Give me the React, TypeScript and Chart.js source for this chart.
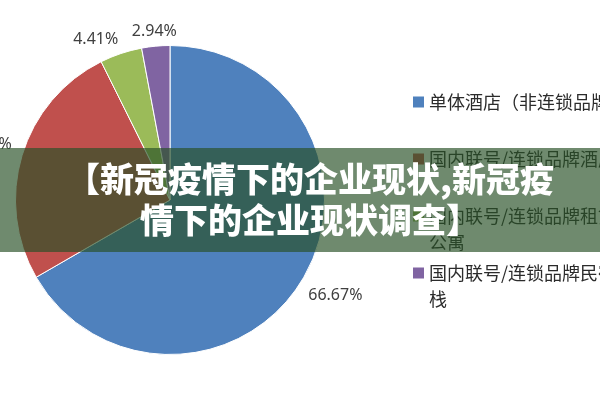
import React, { useEffect, useRef } from "react";
import { Chart, registerables } from "chart.js";

Chart.register(...registerables);

const categories = [
  "单体酒店（非连锁品牌）",
  "国内联号/连锁品牌酒店",
  "国内联号/连锁品牌租赁式公寓",
  "国内联号/连锁品牌民宿客栈",
];
const shares = [66.67, 25.98, 4.41, 2.94];
const sliceColors = ["#4F81BD", "#C0504D", "#9BBB59", "#8064A2"];
const titleLines = ["【新冠疫情下的企业现状,新冠疫", "情下的企业现状调查】"];

const CJK = "'Noto Sans CJK SC', 'Noto Sans', sans-serif";

function wrapText(ctx: CanvasRenderingContext2D, text: string, maxW: number): string[] {
  const lines: string[] = [];
  let cur = "";
  for (const ch of Array.from(text)) {
    if (cur && ctx.measureText(cur + ch).width > maxW) {
      lines.push(cur);
      cur = ch;
    } else {
      cur += ch;
    }
  }
  if (cur) lines.push(cur);
  return lines;
}

type Box = { cx: number; cy: number; hw: number; hh: number };

function overlaps(a: Box, b: Box, pad: number) {
  return Math.abs(a.cx - b.cx) < a.hw + b.hw + pad && Math.abs(a.cy - b.cy) < a.hh + b.hh + pad;
}

const overlayPlugin = {
  id: "overlayPlugin",
  afterDraw(chart: any) {
    const ctx: CanvasRenderingContext2D = chart.ctx;
    const meta = chart.getDatasetMeta(0);
    ctx.save();

    // data labels (outside end), with simple collision avoidance
    ctx.font = "16px 'Noto Sans', 'Open Sans', sans-serif";
    ctx.fillStyle = "#404040";
    ctx.textAlign = "center";
    ctx.textBaseline = "middle";
    const n = meta.data.length;
    const boxes: (Box | null)[] = new Array(n).fill(null);
    const texts: string[] = shares.map((v) => v.toFixed(2) + "%");
    const place = (p: any, angle: number, hw: number): Box => {
      const dx = Math.cos(angle);
      const dy = Math.sin(angle);
      const dist = p.outerRadius + 13 + Math.abs(dx) * hw;
      return { cx: p.x + dx * dist, cy: p.y + dy * dist, hw, hh: 8 };
    };
    for (let i = n - 1; i >= 0; i--) {
      const arc = meta.data[i];
      const p = arc.getProps(["x", "y", "startAngle", "endAngle", "outerRadius"], true);
      let angle = (p.startAngle + p.endAngle) / 2;
      const hw = ctx.measureText(texts[i]).width / 2;
      let box = place(p, angle, hw);
      let guard = 0;
      while (i < n - 1 && boxes[i + 1] && overlaps(box, boxes[i + 1] as Box, 12) && guard < 200) {
        angle -= 0.01;
        box = place(p, angle, hw);
        guard++;
      }
      boxes[i] = box;
    }
    boxes.forEach((b, i) => {
      if (b) ctx.fillText(texts[i], b.cx, b.cy);
    });

    // legend
    const legendX = 413;
    const legendTop = 102;
    const legendStep = 57;
    const lineH = 26;
    ctx.font = "18px " + CJK;
    ctx.textAlign = "left";
    ctx.textBaseline = "middle";
    categories.forEach((label, i) => {
      const y = legendTop + i * legendStep;
      ctx.fillStyle = sliceColors[i];
      ctx.fillRect(legendX, y - 5.5, 11, 11);
      ctx.fillStyle = "#2b2b2b";
      const lines = wrapText(ctx, label, 212);
      lines.forEach((ln, j) => ctx.fillText(ln, legendX + 16, y + j * lineH));
    });

    // overlay band
    ctx.fillStyle = "rgba(40,80,39,0.67)";
    ctx.fillRect(0, 148, chart.width, 104);

    // overlay title
    ctx.fillStyle = "#ffffff";
    ctx.font = "900 34px " + CJK;
    ctx.textAlign = "center";
    ctx.textBaseline = "middle";
    titleLines.forEach((t, j) => ctx.fillText(t, 310, 179 + j * 41));

    ctx.restore();
  },
};

export default function App() {
  const canvasRef = useRef<HTMLCanvasElement | null>(null);

  useEffect(() => {
    if (!canvasRef.current) return;
    const chart = new Chart(canvasRef.current, {
      type: "pie",
      data: {
        labels: categories,
        datasets: [
          {
            data: shares,
            backgroundColor: sliceColors,
            borderColor: "#ffffff",
            borderWidth: 1,
          },
        ],
      },
      options: {
        responsive: false,
        maintainAspectRatio: false,
        animation: false,
        layout: { padding: { left: 15, right: 275, top: 45, bottom: 45 } },
        plugins: {
          legend: { display: false },
          tooltip: { enabled: false },
          title: { display: false },
        },
      },
      plugins: [overlayPlugin],
    });
    return () => chart.destroy();
  }, []);

  return (
    <div style={{ position: "fixed", left: 0, top: 0, width: 600, height: 400, background: "#ffffff" }}>
      <canvas ref={canvasRef} width={600} height={400} style={{ display: "block" }} />
    </div>
  );
}
